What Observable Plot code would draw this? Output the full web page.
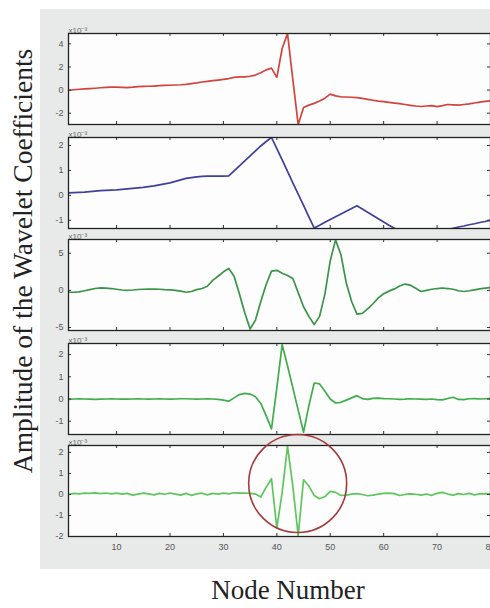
<!DOCTYPE html>
<html><head><meta charset="utf-8">
<script src="https://cdn.jsdelivr.net/npm/d3@7"></script>
<script src="https://cdn.jsdelivr.net/npm/@observablehq/plot@0.6"></script>
<style>
body{margin:0;background:#fff;width:490px;height:608px;overflow:hidden;position:relative;}
#bg{position:absolute;left:40px;top:9px;width:450px;height:560px;background:#e8eaea}
.panel{position:absolute;left:40px}
#ylab{position:absolute;left:22px;top:261px;transform:translate(-50%,-50%) rotate(-90deg);white-space:nowrap;font-family:"Liberation Serif","Times New Roman",serif;font-size:27.5px;line-height:27px;color:#222}
#xlab{position:absolute;left:288px;top:577px;transform:translateX(-50%);white-space:nowrap;font-family:"Liberation Serif","Times New Roman",serif;font-size:27px;line-height:27px;color:#222}
</style>
</head><body>
<div id="bg"></div>
<div id="ylab">Amplitude of the Wavelet Coefficients</div>
<div id="xlab">Node Number</div>
<script>
const nodes = Array.from({length: 80}, (_, i) => i + 1);
const xTicks = [10, 20, 30, 40, 50, 60, 70, 80];
const scaleLabel = "x10⁻³";

const level1 = [-0.02, 0.03, 0.07, 0.1, 0.13, 0.16, 0.2, 0.23, 0.25, 0.26,
  0.24, 0.22, 0.25, 0.3, 0.32, 0.33, 0.35, 0.38, 0.4, 0.42,
  0.44, 0.46, 0.5, 0.56, 0.62, 0.7, 0.76, 0.82, 0.87, 0.93,
  1.0, 1.1, 1.15, 1.15, 1.2, 1.3, 1.5, 1.75, 1.9, 1.1,
  3.6, 4.9, 0.9, -3.0, -1.5, -1.3, -1.15, -0.95, -0.7, -0.35,
  -0.5, -0.58, -0.6, -0.62, -0.65, -0.72, -0.8, -0.88, -0.95, -1.0,
  -1.07, -1.13, -1.18, -1.25, -1.32, -1.38, -1.42, -1.38, -1.35, -1.43,
  -1.35, -1.25, -1.28, -1.3, -1.25, -1.2, -1.12, -1.05, -0.98, -0.92];

const level2 = [0.1, 0.11, 0.12, 0.13, 0.15, 0.17, 0.19, 0.2, 0.21, 0.22,
  0.24, 0.26, 0.28, 0.3, 0.32, 0.35, 0.38, 0.42, 0.46, 0.5,
  0.56, 0.62, 0.68, 0.71, 0.74, 0.76, 0.77, 0.77, 0.77, 0.77,
  0.78, 0.98, 1.18, 1.38, 1.58, 1.78, 1.98, 2.16, 2.32, 1.87,
  1.42, 0.96, 0.5, 0.05, -0.4, -0.86, -1.31, -1.2, -1.08, -0.97,
  -0.86, -0.75, -0.64, -0.53, -0.42, -0.55, -0.68, -0.81, -0.94, -1.07,
  -1.2, -1.32, -1.43, -1.5, -1.55, -1.58, -1.6, -1.58, -1.55, -1.5,
  -1.45, -1.38, -1.32, -1.27, -1.23, -1.18, -1.14, -1.09, -1.05, -1.0];

const level3 = [-0.25, -0.25, -0.2, -0.05, 0.1, 0.25, 0.35, 0.3, 0.25, 0.15,
  0.05, 0.0, 0.05, 0.12, 0.15, 0.18, 0.18, 0.15, 0.1, 0.08,
  0.0, -0.1, -0.25, -0.15, 0.1, 0.25, 0.55, 1.35, 1.9, 2.5,
  2.95, 1.9, -0.5, -3.0, -5.2, -4.0, -1.5, 0.8, 2.6, 2.7,
  2.3, 2.0, 1.6, -0.3, -2.2, -3.5, -4.6, -3.5, -0.5, 4.0,
  6.8, 4.8, 1.0, -1.5, -3.2, -3.1, -2.5, -1.8, -1.0, -0.45,
  -0.1, 0.2, 0.6, 0.85, 0.7, 0.3, -0.15, 0.0, 0.15, 0.25,
  0.32, 0.25, 0.15, -0.05, -0.15, -0.05, 0.08, 0.2, 0.3, 0.38];

const level4 = [-0.02, 0, 0.01, 0, -0.01, -0.02, -0.01, 0, 0.01, 0,
  -0.01, -0.01, 0, 0.01, 0, -0.01, 0, 0.01, 0, -0.01,
  0, 0.01, 0.01, 0, -0.01, 0, 0.01, 0, -0.02, -0.05,
  -0.1, 0.05, 0.2, 0.25, 0.22, 0.1, -0.2, -0.75, -1.35, 0.5,
  2.45, 1.5, 0.5, -0.5, -1.5, -0.3, 0.72, 0.68, 0.35, 0.0,
  -0.18, -0.15, -0.05, 0.05, 0.15, 0.02, -0.02, 0.03, 0.04, 0.02,
  0.01, 0, -0.02, -0.01, 0.01, 0.0, -0.01, -0.02, 0.0, -0.03,
  -0.04, 0.02, 0.08, -0.02, -0.03, 0.01, 0.02, 0, 0.01, 0.02];

const level5 = [0.0, 0.05, 0.03, 0.06, 0.05, 0.08, 0.04, 0.07, 0.03, 0.06,
  0.02, 0.05, -0.03, 0.02, 0.06, 0.03, -0.02, 0.05, 0.01, 0.07,
  0.02, -0.03, 0.05, -0.04, 0.03, 0.06, -0.02, 0.05, 0.02, 0.06,
  0.03, 0.08, 0.06, 0.07, 0.05, 0.02, -0.12, 0.35, 0.75, -1.6,
  0.1, 2.3, 0.38, -1.95, 0.7, 0.4, -0.05, -0.2, -0.1, 0.15,
  0.1, -0.05, -0.03, 0.02, 0.04, 0.0, -0.06, -0.03, 0.02, 0.05,
  0.06, 0.04, -0.05, 0.0, 0.03, 0.01, -0.03, 0.02, -0.04, 0.05,
  0.1, 0.02, -0.03, 0.04, 0.0, 0.05, -0.02, 0.03, 0.04, 0.02];

const highlight = [{node: 43.9, amp: 0.52}];

const panels = [
  {values: level1, color: "#d2433e", domain: [-2.98, 4.9], ticks: [-2, 0, 2, 4], top: 33, curve: "linear"},
  {values: level2, color: "#3f3f9f", domain: [-1.33, 2.32], ticks: [-1, 0, 1, 2], top: 137, curve: "linear"},
  {values: level3, color: "#3b9449", domain: [-5.4, 6.85], ticks: [-5, 0, 5], top: 239, curve: "linear"},
  {values: level4, color: "#3fae4a", domain: [-1.6, 2.5], ticks: [-1, 0, 1, 2], top: 343, curve: "linear"},
  {values: level5, color: "#5ec65c", domain: [-2.0, 2.33], ticks: [-2, -1, 0, 1, 2], top: 445, curve: "linear", last: true}
];

const H = 91, W = 450, ML = 28, MR = 0;
const innerW = W - ML - MR;

for (const p of panels) {
  const mt = 12, mb = p.last ? 26 : 2;
  const data = nodes.map((n, i) => ({n, v: p.values[i]}));
  const marks = [
    Plot.frame({fill: "#fdfdfd", stroke: null}),
    Plot.line(data, {x: "n", y: "v", stroke: p.color, strokeWidth: 1.7, curve: p.curve, clip: true}),
    Plot.ruleX(xTicks, {x: d => d, insetTop: H - 3, stroke: "#333"}),
    Plot.ruleX(xTicks, {x: d => d, insetBottom: H - 3, stroke: "#333"}),
    Plot.ruleY(p.ticks, {y: d => d, insetRight: innerW - 3, stroke: "#333"}),
    Plot.ruleY(p.ticks, {y: d => d, insetLeft: innerW - 3, stroke: "#333"}),
    Plot.frame({stroke: "#222", strokeWidth: 1.3}),
    Plot.text([scaleLabel], {frameAnchor: "top-left", text: d => d, textAnchor: "start", lineAnchor: "bottom", dy: -1, fontSize: 8, fill: "#666"})
  ];
  if (p.last) {
    marks.push(Plot.dot(highlight, {x: "node", y: "amp", r: 49, stroke: "#a53a3c", strokeWidth: 1.6, fill: "none"}));
  }
  const chart = Plot.plot({
    width: W, height: mt + H + mb,
    marginLeft: ML, marginRight: MR, marginTop: mt, marginBottom: mb,
    style: {background: "transparent", overflow: "visible", fontSize: "9px", color: "#555", fontFamily: "'Liberation Sans', Arial, sans-serif"},
    x: {domain: [1, 80], ticks: xTicks, tickSize: 0, tickPadding: 7, label: null, axis: p.last ? "bottom" : null, tickFormat: d => String(d)},
    y: {domain: p.domain, ticks: p.ticks, tickSize: 0, tickPadding: 5, label: null, tickFormat: d => String(d)},
    marks
  });
  const div = document.createElement("div");
  div.className = "panel";
  div.style.top = (p.top - mt) + "px";
  div.appendChild(chart);
  document.body.appendChild(div);
}
</script>
</body></html>
